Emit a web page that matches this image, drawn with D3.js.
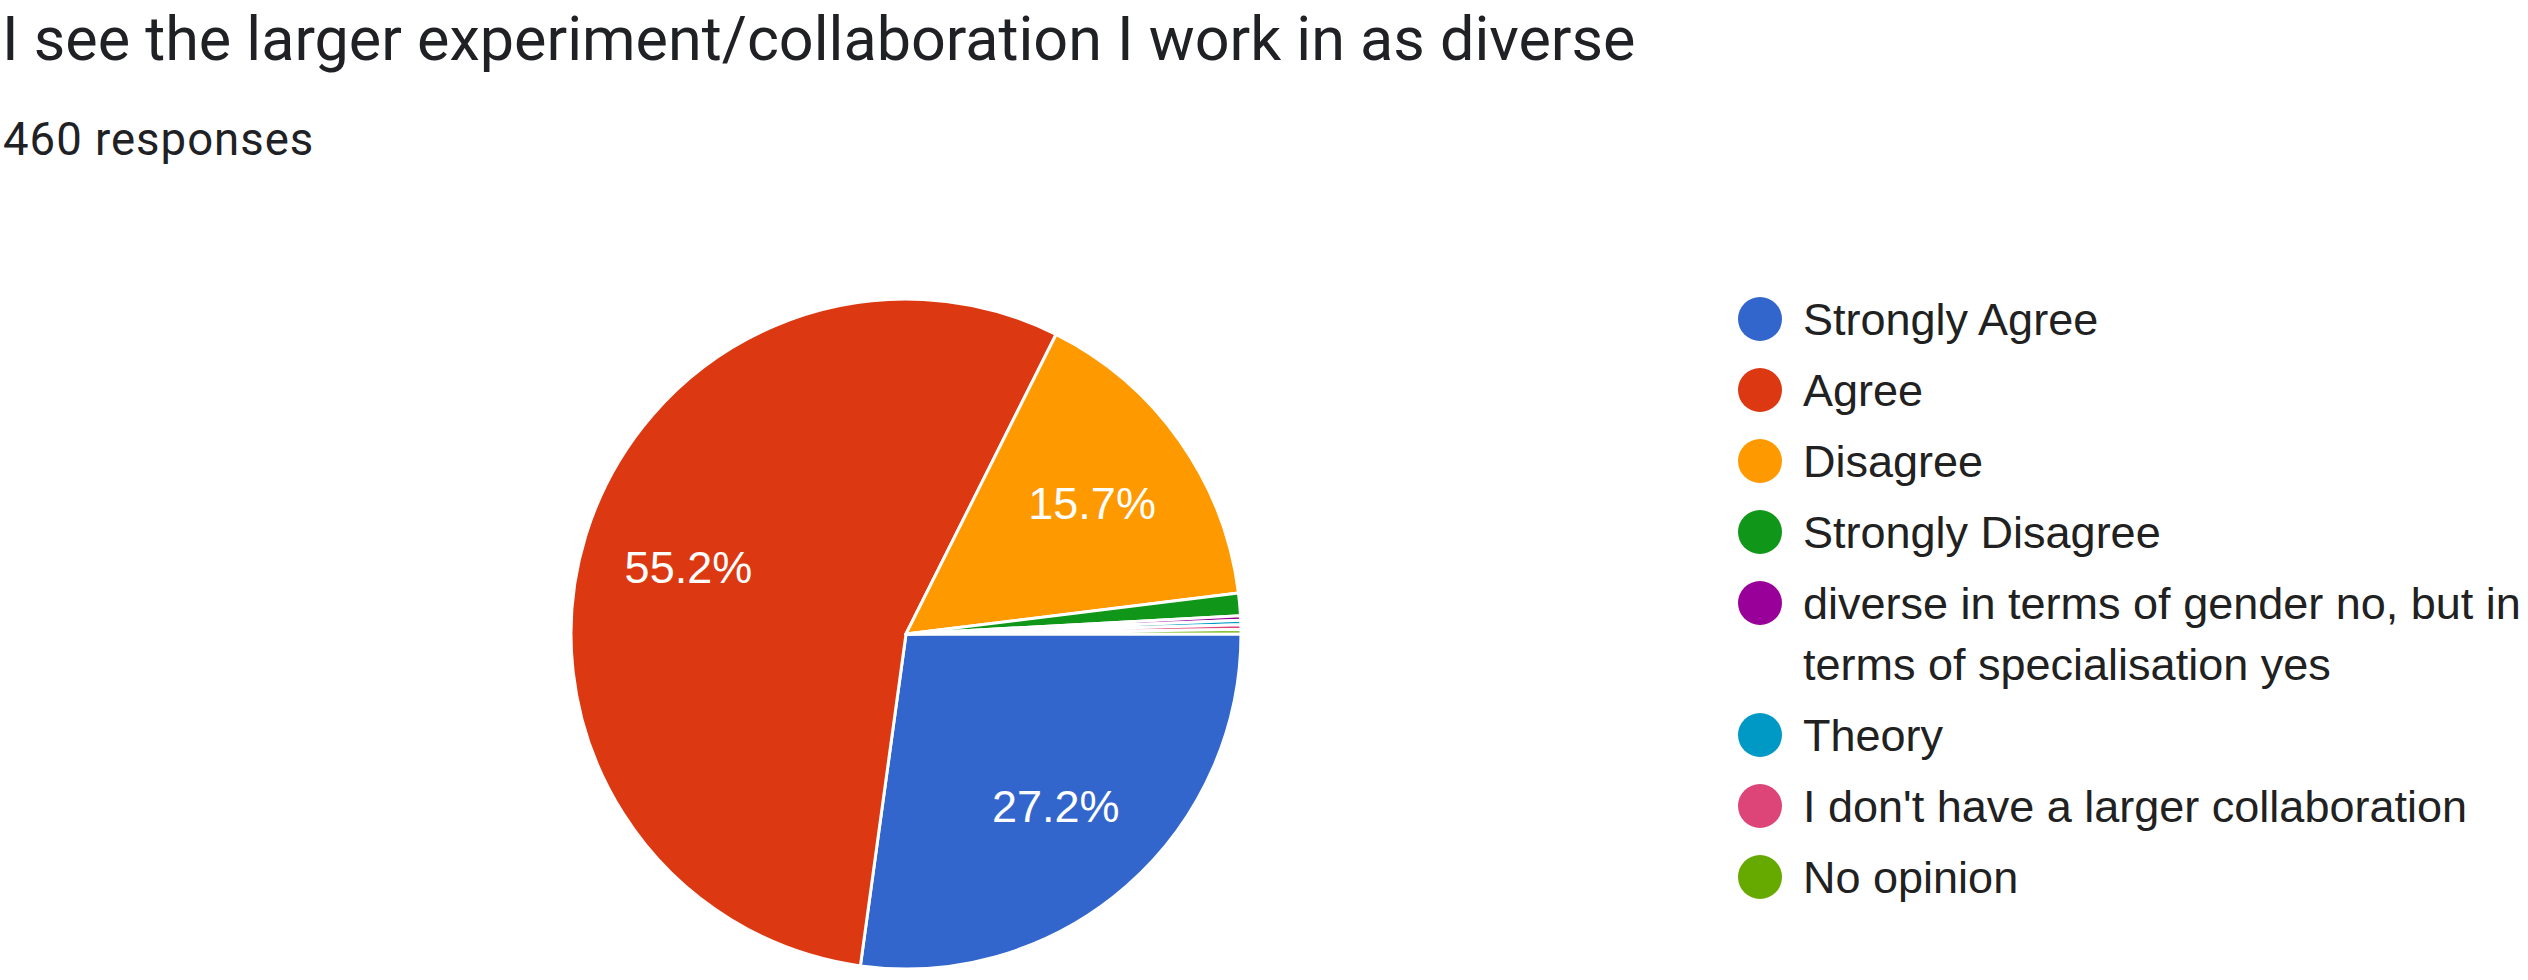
<!DOCTYPE html>
<html>
<head>
<meta charset="utf-8">
<script src="https://cdn.jsdelivr.net/npm/d3@7"></script>
<style>
  html, body { margin: 0; padding: 0; background: #ffffff; }
  svg { display: block; }
</style>
</head>
<body>
<svg id="chart" width="2528" height="980"></svg>
<script>
const title = "I see the larger experiment/collaboration I work in as diverse";
const subtitle = "460 responses";
const categories = [
  "Strongly Agree",
  "Agree",
  "Disagree",
  "Strongly Disagree",
  "diverse in terms of gender no, but in terms of specialisation yes",
  "Theory",
  "I don't have a larger collaboration",
  "No opinion"
];
const counts = [125, 254, 72, 5, 1, 1, 1, 1];
const colors = ["#3366cc", "#dc3912", "#ff9900", "#109618", "#990099", "#0099c6", "#dd4477", "#66aa00"];

const W = 2528, H = 980;
const svg = d3.select("#chart");

function fitWidth(t, target) {
  const w = t.node().getComputedTextLength();
  const fs = +t.attr("font-size");
  t.attr("font-size", fs * target / w);
}

// Title and subtitle
const titleText = svg.append("text")
  .attr("x", 2).attr("y", 60)
  .attr("font-family", "Roboto, 'Open Sans', sans-serif")
  .attr("font-size", 66)
  .attr("fill", "#202124")
  .text(title);
fitWidth(titleText, 1634);

const subText = svg.append("text")
  .attr("x", 3).attr("y", 155)
  .attr("font-family", "Roboto, 'Open Sans', sans-serif")
  .attr("font-size", 45.5)
  .attr("fill", "#202124")
  .attr("letter-spacing", 1)
  .text(subtitle);

// Pie
const cx = 906, cy = 634, r = 335;
const total = d3.sum(counts);
const data = categories.map((c, i) => ({ name: c, value: counts[i], color: colors[i] }));

const pie = d3.pie().sort(null).value(d => d.value)
  .startAngle(Math.PI / 2).endAngle(Math.PI / 2 + 2 * Math.PI);
const arcs = pie(data);
const arc = d3.arc().innerRadius(0).outerRadius(r);
const labelArc = d3.arc().innerRadius(r * 0.68).outerRadius(r * 0.68);

const g = svg.append("g").attr("transform", `translate(${cx},${cy})`);
g.selectAll("path.slice")
  .data(arcs)
  .join("path")
  .attr("class", "slice")
  .attr("d", arc)
  .attr("fill", d => d.data.color)
  .attr("stroke", "#ffffff")
  .attr("stroke-width", 3)
  .attr("stroke-linejoin", "round");

const fmt = v => (v * 100).toFixed(1) + "%";
g.selectAll("text.pct")
  .data(arcs.filter(d => d.data.value / total > 0.05))
  .join("text")
  .attr("class", "pct")
  .attr("transform", d => `translate(${labelArc.centroid(d)})`)
  .attr("text-anchor", "middle")
  .attr("dy", "0.36em")
  .attr("font-family", "'Liberation Sans', Arial, sans-serif")
  .attr("font-size", 45)
  .attr("fill", "#ffffff")
  .text(d => fmt(d.data.value / total));

// Legend
const legX = 1760, legTextX = 1803, legY0 = 319, rowH = 71, lineH = 61, maxW = 722;
const leg = svg.append("g");
let y = legY0;
data.forEach((d, i) => {
  leg.append("circle")
    .attr("cx", legX).attr("cy", y).attr("r", 22)
    .attr("fill", d.color);
  const t = leg.append("text")
    .attr("x", legTextX).attr("y", y)
    .attr("dy", "0.36em")
    .attr("font-family", "'Liberation Sans', Arial, sans-serif")
    .attr("font-size", 45)
    .attr("fill", "#212121");
  const words = d.name.split(" ");
  let line = [];
  let tspan = t.append("tspan").attr("x", legTextX);
  let lines = 1;
  words.forEach(wd => {
    line.push(wd);
    tspan.text(line.join(" "));
    if (tspan.node().getComputedTextLength() > maxW && line.length > 1) {
      line.pop();
      tspan.text(line.join(" "));
      line = [wd];
      tspan = t.append("tspan").attr("x", legTextX).attr("dy", lineH).text(wd);
      lines++;
    }
  });
  y += rowH + (lines - 1) * lineH;
});
</script>
</body>
</html>
